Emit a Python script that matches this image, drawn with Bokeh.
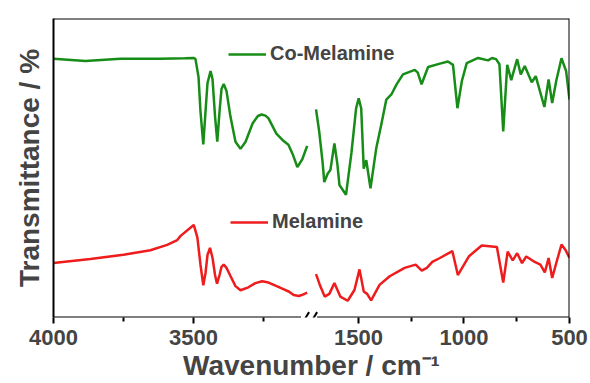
from bokeh.plotting import figure
from bokeh.models import (Range1d, FixedTicker, Legend, LegendItem, Span, Arrow)
from bokeh.embed import file_html
from bokeh.resources import INLINE

# ---------------- data (wavenumber in cm^-1, transmittance in %, traces offset) ----
# Co-Melamine, high-wavenumber segment (4000 - 3090)
co_hi_wn = [4000, 3886, 3761, 3618, 3530, 3500, 3493, 3482, 3475, 3465, 3457, 3450,
            3439, 3432, 3423, 3415, 3407, 3400, 3392, 3382, 3368, 3350, 3332, 3314,
            3289, 3270, 3257, 3243, 3232, 3204, 3179, 3161, 3146, 3129, 3111, 3094]
co_hi_t = [86.5, 85.8, 86.5, 86.5, 86.7, 86.8, 86.5, 80.4, 68.9, 57.9, 68.9, 78.4,
           82.4, 79.7, 67.2, 58.8, 68.9, 76.4, 78.1, 75.7, 67.2, 58.8, 56.4, 58.8,
           64.9, 67.4, 67.9, 67.5, 66.6, 61.5, 59.1, 57.8, 54.7, 50.3, 53.0, 57.4]

# Co-Melamine, low-wavenumber segment (1700 - 500)
co_lo_wn = [1701, 1686, 1670, 1662, 1646, 1633, 1614, 1600, 1590, 1567, 1559, 1533,
            1511, 1499, 1487, 1475, 1463, 1443, 1416, 1392, 1368, 1344, 1320, 1289,
            1233, 1219, 1201, 1170, 1114, 1076, 1052, 1031, 1010, 987, 933, 886,
            867, 848, 832, 814, 795, 776, 748, 731, 712, 679, 660, 619, 599, 582,
            563, 538, 516, 500]
co_lo_t = [69.6, 62.2, 52.0, 45.3, 48.1, 49.3, 58.2, 51.4, 44.3, 41.9, 41.0, 55.2,
           70.0, 73.3, 70.0, 49.8, 52.6, 43.2, 56.5, 64.5, 72.9, 74.6, 77.9, 81.3,
           82.8, 81.9, 78.0, 83.8, 84.9, 85.6, 84.5, 70.0, 79.1, 85.1, 86.8, 86.0,
           86.8, 86.4, 84.7, 62.2, 84.5, 79.4, 86.4, 81.3, 84.1, 78.7, 80.7, 70.4,
           79.6, 71.7, 79.1, 86.7, 82.4, 72.9]

# Melamine, high-wavenumber segment
mel_hi_wn = [4000, 3868, 3750, 3654, 3594, 3558, 3546, 3511, 3499, 3486, 3475, 3465,
             3457, 3450, 3441, 3432, 3423, 3416, 3407, 3400, 3392, 3382, 3368, 3350,
             3332, 3304, 3279, 3255, 3232, 3201, 3179, 3160, 3142, 3124, 3111, 3094]
mel_hi_t = [18.2, 19.6, 21.0, 22.5, 24.3, 25.9, 27.3, 30.0, 31.0, 26.7, 17.6, 10.8,
            14.9, 20.9, 23.3, 19.9, 14.2, 11.3, 14.2, 16.9, 17.7, 16.6, 13.9, 10.5,
            9.1, 10.1, 11.5, 12.1, 11.7, 10.4, 9.5, 8.7, 7.5, 7.2, 7.6, 8.3]

# Melamine, low-wavenumber segment
mel_lo_wn = [1701, 1681, 1660, 1638, 1614, 1586, 1551, 1519, 1495, 1475, 1459, 1440,
             1400, 1352, 1281, 1229, 1200, 1176, 1150, 1114, 1055, 1029, 976, 916,
             844, 814, 793, 769, 748, 725, 705, 670, 638, 617, 599, 582, 562, 538,
             519, 500]
mel_lo_t = [14.5, 10.5, 7.0, 7.9, 11.5, 7.0, 5.6, 9.2, 16.1, 8.7, 7.9, 5.7,
            10.9, 13.8, 16.6, 17.7, 15.7, 16.6, 18.6, 19.9, 22.2, 14.2, 20.5, 24.1,
            23.6, 11.7, 22.0, 19.1, 21.5, 18.2, 20.4, 18.8, 17.7, 15.1, 19.9, 13.2,
            18.4, 24.4, 22.6, 19.9]

series_names = ["Co-Melamine", "Melamine"]
x_label = "Wavenumber / cm\u207b\u00b9"
y_label = "Transmittance / %"

hi_major = [4000, 3500]
hi_minor = [3750, 3250]
lo_major = [1500, 1000, 500]
lo_minor = [1250, 750]

# ---------------- axis ranges (broken axis) ----------------
LO_START, LO_END = 2945.0, 500.0      # main range (low-wavenumber scale)
HI_START, HI_END = 4000.0, 2157.0     # extra range (high-wavenumber scale)


def hi_to_main(w):
    frac = (HI_START - w) / (HI_START - HI_END)
    return LO_START + frac * (LO_END - LO_START)


GREEN = "#178c17"
RED = "#ee1c1c"
FONT = "Liberation Sans"

p = figure(width=590, height=383, output_backend="svg", toolbar_location=None,
           x_range=Range1d(LO_START, LO_END), y_range=Range1d(0, 100),
           min_border_left=53, min_border_right=21, min_border_top=18,
           min_border_bottom=40)
p.extra_x_ranges = {"hi": Range1d(HI_START, HI_END)}
p.outline_line_color = None
p.xgrid.visible = False
p.ygrid.visible = False
p.background_fill_color = "white"
p.border_fill_color = "white"

g_hi = p.line(co_hi_wn, co_hi_t, x_range_name="hi", line_color=GREEN, line_width=2.5)
g_lo = p.line(co_lo_wn, co_lo_t, line_color=GREEN, line_width=2.5)
r_hi = p.line(mel_hi_wn, mel_hi_t, x_range_name="hi", line_color=RED, line_width=2.5)
r_lo = p.line(mel_lo_wn, mel_lo_t, line_color=RED, line_width=2.5)

# ---------------- x axis ----------------
major_pos = [hi_to_main(w) for w in hi_major] + lo_major
minor_pos = [hi_to_main(w) for w in hi_minor] + lo_minor
xa = p.xaxis[0]
xa.ticker = FixedTicker(ticks=major_pos, minor_ticks=minor_pos)
xa.major_label_overrides = {hi_to_main(w): str(w) for w in hi_major}
xa.axis_line_color = None
xa.major_tick_in = 0
xa.major_tick_out = 6
xa.minor_tick_in = 0
xa.minor_tick_out = 4
xa.major_tick_line_width = 2
xa.minor_tick_line_width = 2
xa.major_label_text_font = FONT
xa.major_label_text_font_size = "22px"
xa.major_label_text_font_style = "bold"
xa.major_label_standoff = 6
xa.axis_label = x_label
xa.axis_label_text_font = FONT
xa.axis_label_text_font_size = "28px"
xa.axis_label_text_font_style = "bold"
xa.axis_label_standoff = 2

# ---------------- y axis ----------------
ya = p.yaxis[0]
ya.ticker = FixedTicker(ticks=[])
ya.axis_line_width = 2
ya.axis_label = y_label
ya.axis_label_text_font = FONT
ya.axis_label_text_font_size = "28px"
ya.axis_label_text_font_style = "bold"
ya.axis_label_standoff = 9

# ---------------- frame: top, right and broken bottom ----------------
p.add_layout(Span(location=100, dimension="width", line_color="black", line_width=2))
p.add_layout(Span(location=LO_END, dimension="height", line_color="black", line_width=2))

BREAK = 1734.0   # centre of the axis break (main-axis units)
GAP = 38.0
SL = 19.0
p.add_layout(Arrow(start=None, end=None, x_start=LO_START, y_start=0,
                   x_end=BREAK + GAP, y_end=0, line_width=2, line_color="black"))
p.add_layout(Arrow(start=None, end=None, x_start=BREAK - GAP, y_start=0,
                   x_end=LO_END, y_end=0, line_width=2, line_color="black"))
for c in (BREAK + SL, BREAK - SL):
    p.add_layout(Arrow(start=None, end=None, x_start=c + SL, y_start=-2.6,
                       x_end=c - SL, y_end=1.8, line_width=2, line_color="black"))

# ---------------- legends ----------------
for name, rend, loc in ((series_names[0], g_lo, (175, 252)),
                        (series_names[1], r_lo, (177, 84))):
    leg = Legend(items=[LegendItem(label=name, renderers=[rend])], location=loc,
                 glyph_width=38, glyph_height=20, label_standoff=4, padding=0,
                 margin=0, spacing=0, border_line_color=None,
                 background_fill_alpha=0, label_text_font=FONT,
                 label_text_font_size="20px", label_text_font_style="bold")
    p.add_layout(leg)

open("out.html", "w").write(file_html(p, INLINE))
